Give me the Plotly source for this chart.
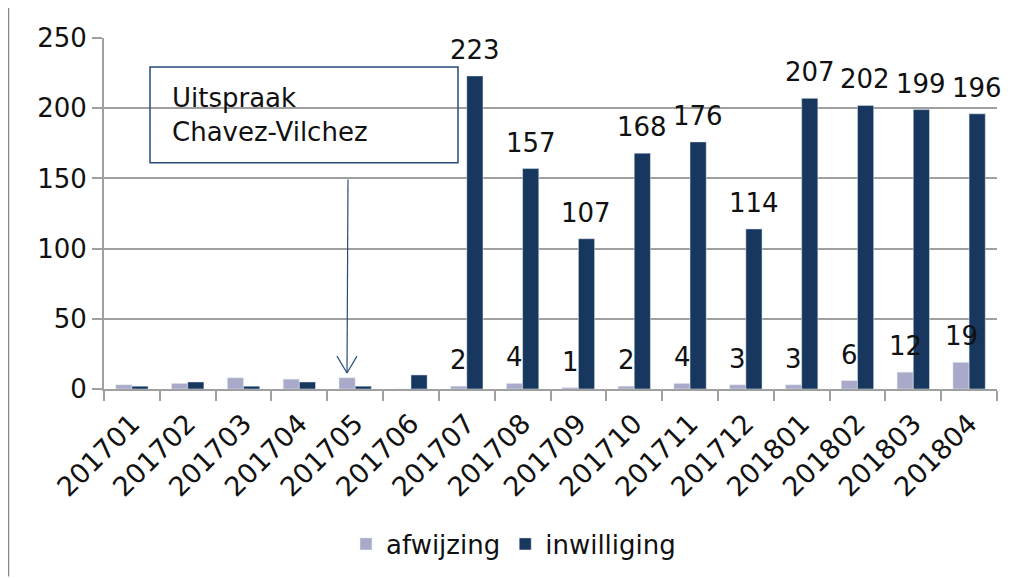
import plotly.graph_objects as go

months = ["201701", "201702", "201703", "201704", "201705", "201706", "201707", "201708",
          "201709", "201710", "201711", "201712", "201801", "201802", "201803", "201804"]
afwijzing = [3, 4, 8, 7, 8, 0, 2, 4, 1, 2, 4, 3, 3, 6, 12, 19]
inwilliging = [2, 5, 2, 5, 2, 10, 223, 157, 107, 168, 176, 114, 207, 202, 199, 196]
label_from = 6  # data labels shown from 201707 onwards

FONT = "DejaVu Sans"
C_AFW = "#A9AAC9"
C_INW = "#17375E"
C_BOX = "#2A4A7A"

fig = go.Figure()
fig.add_bar(x=months, y=afwijzing, name="afwijzing", marker_color=C_AFW)
fig.add_bar(x=months, y=inwilliging, name="inwilliging", marker_color=C_INW)

# page has an 8px body margin: figure coords = page coords - 8
W, H = 1010, 570
L, R, T, B = 96, 21, 30, 188
pw, ph = W - L - R, H - T - B

def px(x):
    return (x - 8 - L) / pw

def py(y):
    return (H - B - (y - 8)) / ph

annotations = []
for i, m in enumerate(months):
    if i < label_from:
        continue
    for vals, shift in ((afwijzing, -8), (inwilliging, 8)):
        annotations.append(dict(x=i, y=vals[i], xref="x", yref="y", text=str(vals[i]),
                                showarrow=False, xanchor="center", yanchor="bottom",
                                xshift=shift, yshift=9,
                                font=dict(size=26, color="#111", family=FONT)))

annotations.append(dict(xref="paper", yref="paper", x=px(170), y=py(115), xanchor="left",
                        yanchor="middle", text="Uitspraak<br>Chavez-Vilchez", align="left",
                        showarrow=False, font=dict(size=26, color="#111", family=FONT)))

fig.update_layout(
    width=W, height=H,
    margin=dict(l=L, r=R, t=T, b=B),
    barmode="group", bargap=0.42, bargroupgap=0,
    paper_bgcolor="white", plot_bgcolor="white",
    font=dict(family=FONT, size=26, color="#111"),
    showlegend=True,
    legend=dict(orientation="h", x=px(346), xanchor="left", y=py(544), yanchor="middle",
                font=dict(size=26), bgcolor="rgba(0,0,0,0)", traceorder="normal",
                itemwidth=30),
    xaxis=dict(type="category", range=[-0.5, len(months) - 0.5],
               showline=True, linecolor="#A0A0A0", linewidth=2,
               ticks="outside", ticklen=10, tickcolor="#A0A0A0", tickwidth=1.5,
               tickson="boundaries", tickangle=-45, tickfont=dict(size=27),
               ticklabelstandoff=6, showgrid=False),
    yaxis=dict(range=[0, 250], dtick=50, showline=True, linecolor="#A0A0A0", linewidth=2,
               ticks="outside", ticklen=10, tickcolor="#A0A0A0", tickwidth=1.5,
               gridcolor="#A0A0A0", gridwidth=1.5, zeroline=False,
               tickfont=dict(size=26)),
    shapes=[
        dict(type="line", xref="paper", yref="paper", layer="above",
             x0=px(8.5), x1=px(8.5), y0=py(578), y1=py(8),
             line=dict(color="#888", width=1.5)),
        dict(type="rect", xref="paper", yref="paper", layer="above",
             x0=px(150), x1=px(458), y0=py(163), y1=py(67),
             line=dict(color=C_BOX, width=1.5)),
        dict(type="line", xref="paper", yref="paper",
             x0=px(348), x1=px(347), y0=py(180), y1=py(374),
             line=dict(color=C_BOX, width=1.2)),
        dict(type="line", xref="paper", yref="paper",
             x0=px(337), x1=px(347), y0=py(357), y1=py(374),
             line=dict(color=C_BOX, width=1.2)),
        dict(type="line", xref="paper", yref="paper",
             x0=px(357), x1=px(347), y0=py(357), y1=py(374),
             line=dict(color=C_BOX, width=1.2)),
    ],
    annotations=annotations,
)

fig.write_html("out.html")
